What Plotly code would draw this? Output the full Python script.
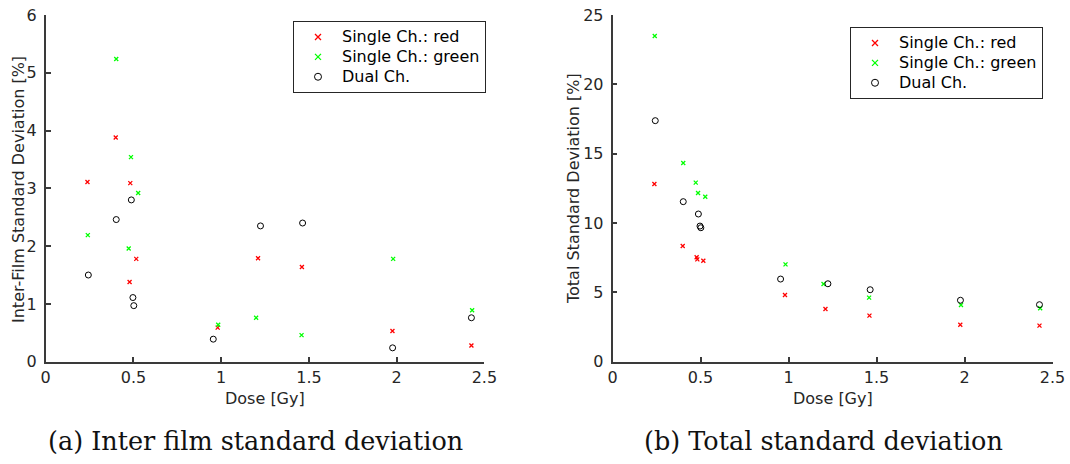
import plotly.graph_objects as go

# Dose points [Gy] for each readout method
dose_red = [0.238, 0.399, 0.478, 0.482, 0.516, 0.980, 1.210, 1.460, 1.976, 2.426]
dose_green = [0.240, 0.402, 0.473, 0.486, 0.527, 0.983, 1.199, 1.458, 1.980, 2.430]
dose_dual = [0.243, 0.402, 0.488, 0.497, 0.502, 0.955, 1.224, 1.464, 1.977, 2.426]

# (a) inter-film standard deviation [%]
inter_red = [3.11, 3.88, 1.38, 3.09, 1.78, 0.59, 1.79, 1.64, 0.53, 0.28]
inter_green = [2.19, 5.24, 1.96, 3.54, 2.92, 0.64, 0.76, 0.46, 1.78, 0.89]
inter_dual = [1.50, 2.46, 2.80, 1.11, 0.97, 0.39, 2.35, 2.40, 0.24, 0.76]

# (b) total standard deviation [%]
total_red = [12.81, 8.34, 7.53, 7.38, 7.28, 4.81, 3.80, 3.32, 2.67, 2.60]
total_green = [23.48, 14.33, 12.91, 12.16, 11.90, 7.02, 5.60, 4.62, 4.09, 3.85]
total_dual = [17.38, 11.54, 10.65, 9.78, 9.66, 5.96, 5.62, 5.19, 4.43, 4.11]

series_names = ["Single Ch.: red", "Single Ch.: green", "Dual Ch."]
x_ticks = [0, 0.5, 1, 1.5, 2, 2.5]
x_tick_text = ["0", "0.5", "1", "1.5", "2", "2.5"]
y_ticks_a = [0, 1, 2, 3, 4, 5, 6]
y_ticks_b = [0, 5, 10, 15, 20, 25]

W, H = 1070, 464
AXIS_COLOR = "#3a3a3a"
TEXT_COLOR = "#262626"
SANS = "DejaVu Sans"

styles = [
    dict(symbol="x-thin", color="#ff0000", size=4, lw=1.3, leg_size=6),
    dict(symbol="x-thin", color="#00ff00", size=4, lw=1.3, leg_size=6),
    dict(symbol="circle-open", color="#000000", size=6, lw=1.0, leg_size=7),
]


def px_x(p):
    return p / W


def px_y(p):
    return 1 - p / H


fig = go.Figure()

panels = [
    ("x", "y", "legend", [dose_red, dose_green, dose_dual], [inter_red, inter_green, inter_dual]),
    ("x2", "y2", "legend2", [dose_red, dose_green, dose_dual], [total_red, total_green, total_dual]),
]

for xa, ya, leg, xs, ys in panels:
    for name, st, xv, yv in zip(series_names, styles, xs, ys):
        fig.add_trace(go.Scatter(
            x=xv, y=yv, mode="markers", xaxis=xa, yaxis=ya,
            showlegend=False, name=name,
            marker=dict(symbol=st["symbol"], size=st["size"], color=st["color"],
                        line=dict(color=st["color"], width=st["lw"])),
        ))
    # legend entries (slightly larger symbols than the plotted points)
    for name, st in zip(series_names, styles):
        fig.add_trace(go.Scatter(
            x=[None], y=[None], mode="markers", xaxis=xa, yaxis=ya,
            legend=leg, showlegend=True,
            name=f'<span style="font-size:16px">{name}</span>',
            marker=dict(symbol=st["symbol"], size=st["leg_size"], color=st["color"],
                        line=dict(color=st["color"], width=st["lw"])),
        ))

axis_common = dict(
    showline=True, linecolor=AXIS_COLOR, linewidth=1.6,
    ticks="inside", ticklen=5, tickwidth=1.5, tickcolor=AXIS_COLOR,
    showgrid=False, zeroline=False, mirror=False, automargin=False,
    tickfont=dict(family=SANS, size=16, color=TEXT_COLOR),
)

y_dom = [px_y(361.7), px_y(15)]

legend_common = dict(
    xanchor="left", yanchor="top",
    bgcolor="white", bordercolor="#262626", borderwidth=1,
    font=dict(family=SANS, size=13, color="black"),
    itemwidth=38, tracegroupgap=0,
)

fig.update_layout(
    width=W, height=H,
    margin=dict(l=0, r=0, t=0, b=0, pad=0, autoexpand=False),
    paper_bgcolor="white", plot_bgcolor="white",
    showlegend=True,
    xaxis=dict(domain=[px_x(45.7), px_x(484.4)], range=[0, 2.5],
               tickvals=x_ticks, ticktext=x_tick_text, anchor="y", **axis_common),
    yaxis=dict(domain=y_dom, range=[0, 6], tickvals=y_ticks_a, anchor="x",
               ticklabelstandoff=4, **axis_common),
    xaxis2=dict(domain=[px_x(612.5), px_x(1052.5)], range=[0, 2.5],
                tickvals=x_ticks, ticktext=x_tick_text, anchor="y2", **axis_common),
    yaxis2=dict(domain=y_dom, range=[0, 25], tickvals=y_ticks_b, anchor="x2",
                ticklabelstandoff=4, **axis_common),
    legend=dict(x=px_x(293), y=px_y(21), **legend_common),
    legend2=dict(x=px_x(850), y=px_y(27), **legend_common),
)

annotations = [
    # axis titles
    dict(text="Inter-Film Standard Deviation [%]", x=px_x(18), y=px_y(190), textangle=-90),
    dict(text="Total Standard Deviation [%]", x=px_x(573), y=px_y(189), textangle=-90),
    dict(text="Dose [Gy]", x=px_x(265), y=px_y(398)),
    dict(text="Dose [Gy]", x=px_x(832.5), y=px_y(398)),
]
for a in annotations:
    a.update(xref="paper", yref="paper", showarrow=False, xanchor="center", yanchor="middle",
             font=dict(family=SANS, size=16, color=TEXT_COLOR))
    fig.add_annotation(**a)

# sub-figure captions
for text, cx in [("(a) Inter film standard deviation", 255), ("(b) Total standard deviation", 823)]:
    fig.add_annotation(text=text, x=px_x(cx), y=px_y(441), xref="paper", yref="paper",
                       showarrow=False, xanchor="center", yanchor="middle",
                       font=dict(family="DejaVu Serif", size=25.5, color="#111111"))

fig.write_html("out.html")
